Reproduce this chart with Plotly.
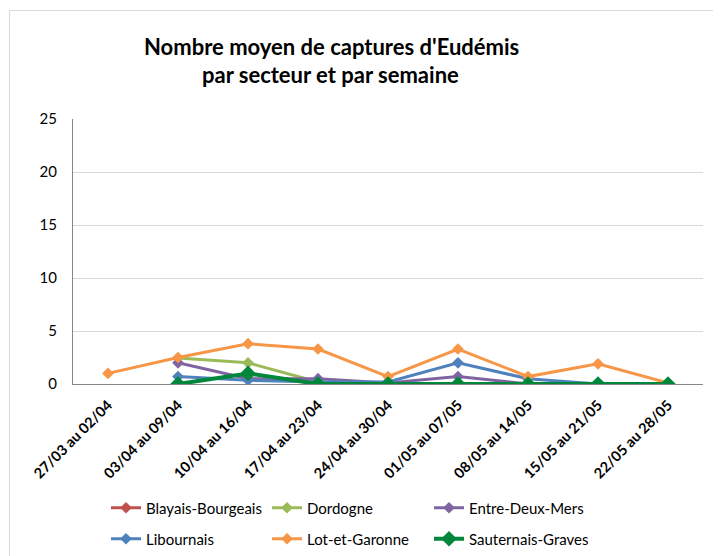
import plotly.graph_objects as go

weeks = ["27/03 au 02/04", "03/04 au 09/04", "10/04 au 16/04", "17/04 au 23/04",
         "24/04 au 30/04", "01/05 au 07/05", "08/05 au 14/05", "15/05 au 21/05",
         "22/05 au 28/05"]

blayais = [None, None, None, 0, 0, 0, 0, 0, 0]
dordogne = [None, 2.45, 2.0, 0.2, 0.1, 0, 0, 0, 0]
entre_deux_mers = [None, 2.0, 0.5, 0.5, 0.1, 0.7, 0, 0, 0]
libournais = [None, 0.7, 0.35, 0.2, 0.2, 2.0, 0.5, 0, 0]
lot_et_garonne = [1.0, 2.5, 3.8, 3.3, 0.7, 3.3, 0.7, 1.9, 0.1]
sauternais = [None, 0, 1.0, 0, 0, 0, 0, 0, 0]

series = [
    ("Blayais-Bourgeais", blayais, "#C0504D", 3, 9),
    ("Dordogne", dordogne, "#9BBB59", 3, 9),
    ("Entre-Deux-Mers", entre_deux_mers, "#8064A2", 3, 9),
    ("Libournais", libournais, "#4F81BD", 3, 9),
    ("Lot-et-Garonne", lot_et_garonne, "#F79646", 3, 9),
    ("Sauternais-Graves", sauternais, "#00873C", 4, 12),
]

FONT = "Lato"

# page body has an 8px offset
OFF = 8
W, H = 721 - OFF, 556 - OFF
L, T = 73 - OFF, 119 - OFF
R = W - (703 - OFF)
B = H - (384 - OFF)
pw = W - L - R
ph = H - T - B


def px(xs):
    return (xs - 73) / pw


def py(ys):
    return (384 - ys) / ph


# legend entry positions (screen px): text start x, row centre y
legend_pos = [(146, 508), (307, 508), (469, 508), (146, 539), (307, 539), (469, 539)]

fig = go.Figure()
legends = {}
for i, (name, vals, color, lw, ms) in enumerate(series):
    key = "legend" if i == 0 else f"legend{i + 1}"
    fig.add_trace(go.Scatter(
        x=weeks, y=vals, name=name, mode="lines+markers",
        line=dict(color=color, width=lw),
        marker=dict(symbol="diamond", size=ms, color=color),
        connectgaps=False, legend=key,
    ))
    tx, ty = legend_pos[i]
    legends[key] = dict(
        x=px(tx - 40), y=py(ty), xanchor="left", yanchor="middle",
        orientation="h",
        font=dict(family=FONT, size=15, color="#000000"),
        bgcolor="rgba(0,0,0,0)",
    )

fig.update_layout(
    width=W, height=H,
    margin=dict(l=L, r=R, t=T, b=B, autoexpand=False),
    paper_bgcolor="white", plot_bgcolor="white",
    font=dict(family=FONT, size=15, color="#000000"),
    showlegend=True,
    xaxis=dict(
        type="category", showgrid=False, showline=True, linecolor="#868686",
        linewidth=1, tickangle=-45, ticks="", ticklabelstandoff=6,
        tickfont=dict(family=FONT, size=14.5, color="#000000", weight="bold"),
        range=[-0.5, 8.5],
    ),
    yaxis=dict(
        range=[0, 25], tickvals=[0, 5, 10, 15, 20, 25],
        showgrid=True, gridcolor="#D9D9D9", gridwidth=1,
        showline=True, linecolor="#868686", linewidth=1,
        ticks="", ticklabelstandoff=12, zeroline=False,
        tickfont=dict(family=FONT, size=15, color="#000000"),
    ),
    annotations=[
        dict(text="<b>Nombre moyen de captures d'Eudémis</b>", xref="paper", yref="paper",
             x=px(331), y=py(46), xanchor="center", yanchor="middle",
             showarrow=False, font=dict(family=FONT, size=22, color="#000000")),
        dict(text="<b>par secteur et par semaine</b>", xref="paper", yref="paper",
             x=px(330), y=py(74), xanchor="center", yanchor="middle",
             showarrow=False, font=dict(family=FONT, size=22, color="#000000")),
    ],
    shapes=[
        dict(type="line", xref="paper", yref="paper",
             x0=px(9), x1=px(721), y0=py(10.5), y1=py(10.5),
             line=dict(color="#D9D9D9", width=1)),
        dict(type="line", xref="paper", yref="paper",
             x0=px(9.5), x1=px(9.5), y0=py(10), y1=py(556),
             line=dict(color="#D9D9D9", width=1)),
    ],
    **legends,
)

fig.write_html("out.html")
